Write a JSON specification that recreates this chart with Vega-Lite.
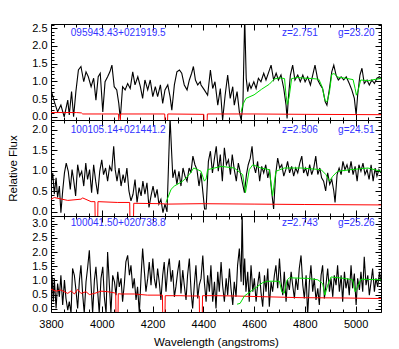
{
"$schema":"https://vega.github.io/schema/vega-lite/v6.json",
"background":"white",
"padding":{"left":6,"top":18,"right":5,"bottom":5},
"bounds":"flush",
"spacing":0,
"datasets":{
"b1":[{"x":3800,"y":0.76},{"x":3813,"y":0.43},{"x":3826,"y":0.14},{"x":3839,"y":0.33},{"x":3852,"y":0.0},{"x":3866,"y":0.47},{"x":3872,"y":0.05},{"x":3881,"y":0.71},{"x":3889,"y":0.0},{"x":3898,"y":0.71},{"x":3908,"y":1.32},{"x":3918,"y":1.42},{"x":3929,"y":0.99},{"x":3938,"y":1.27},{"x":3947,"y":1.13},{"x":3958,"y":0.85},{"x":3968,"y":1.09},{"x":3977,"y":0.47},{"x":3986,"y":1.13},{"x":3994,"y":1.23},{"x":4004,"y":0.14},{"x":4013,"y":0.99},{"x":4023,"y":1.13},{"x":4032,"y":1.27},{"x":4040,"y":1.46},{"x":4049,"y":0.85},{"x":4059,"y":0.76},{"x":4067,"y":0.38},{"x":4073,"y":-0.05},{"x":4082,"y":0.85},{"x":4092,"y":0.76},{"x":4102,"y":0.94},{"x":4112,"y":0.8},{"x":4122,"y":1.27},{"x":4131,"y":0.9},{"x":4142,"y":1.13},{"x":4152,"y":0.85},{"x":4161,"y":0.52},{"x":4170,"y":1.04},{"x":4181,"y":0.76},{"x":4191,"y":1.04},{"x":4201,"y":0.57},{"x":4211,"y":0.85},{"x":4220,"y":0.57},{"x":4231,"y":0.9},{"x":4240,"y":0.38},{"x":4249,"y":0.76},{"x":4260,"y":0.9},{"x":4269,"y":0.57},{"x":4276,"y":0.19},{"x":4286,"y":0.9},{"x":4296,"y":1.27},{"x":4306,"y":1.32},{"x":4315,"y":1.23},{"x":4325,"y":0.9},{"x":4336,"y":0.76},{"x":4345,"y":1.04},{"x":4354,"y":1.23},{"x":4361,"y":1.42},{"x":4369,"y":1.04},{"x":4378,"y":0.9},{"x":4388,"y":0.99},{"x":4391,"y":0.9},{"x":4404,"y":0.76},{"x":4417,"y":0.61},{"x":4428,"y":1.32},{"x":4437,"y":0.8},{"x":4446,"y":0.99},{"x":4457,"y":0.33},{"x":4467,"y":0.8},{"x":4476,"y":-0.09},{"x":4486,"y":0.61},{"x":4496,"y":1.18},{"x":4506,"y":0.52},{"x":4516,"y":0.85},{"x":4522,"y":0.33},{"x":4533,"y":0.71},{"x":4542,"y":0.14},{"x":4549,"y":-0.09},{"x":4556,"y":0.33},{"x":4563,"y":2.8},{"x":4569,"y":1.09},{"x":4575,"y":0.71},{"x":4581,"y":0.94},{"x":4588,"y":0.8},{"x":4599,"y":0.99},{"x":4608,"y":0.8},{"x":4617,"y":1.09},{"x":4627,"y":0.99},{"x":4638,"y":1.23},{"x":4647,"y":1.04},{"x":4658,"y":1.27},{"x":4667,"y":1.46},{"x":4677,"y":1.04},{"x":4687,"y":1.23},{"x":4696,"y":1.04},{"x":4706,"y":1.18},{"x":4717,"y":0.8},{"x":4726,"y":0.33},{"x":4730,"y":-0.05},{"x":4735,"y":0.52},{"x":4743,"y":1.18},{"x":4752,"y":1.46},{"x":4761,"y":1.04},{"x":4772,"y":1.18},{"x":4782,"y":0.99},{"x":4792,"y":1.18},{"x":4801,"y":0.99},{"x":4811,"y":1.13},{"x":4822,"y":0.9},{"x":4831,"y":1.18},{"x":4840,"y":1.46},{"x":4851,"y":1.04},{"x":4861,"y":0.9},{"x":4870,"y":0.8},{"x":4880,"y":0.43},{"x":4887,"y":0.33},{"x":4897,"y":0.8},{"x":4906,"y":1.27},{"x":4914,"y":1.46},{"x":4923,"y":1.18},{"x":4932,"y":1.04},{"x":4943,"y":1.13},{"x":4953,"y":1.04},{"x":4963,"y":1.13},{"x":4975,"y":0.94},{"x":4985,"y":0.76},{"x":4995,"y":0.52},{"x":5002,"y":0.05},{"x":5008,"y":0.61},{"x":5017,"y":1.18},{"x":5025,"y":1.37},{"x":5034,"y":0.94},{"x":5045,"y":1.04},{"x":5054,"y":0.9},{"x":5064,"y":1.04},{"x":5074,"y":0.94},{"x":5084,"y":1.09},{"x":5094,"y":1.13},{"x":5100,"y":1.09}],
"r1":[{"x":3800,"y":0.12},{"x":3850,"y":0.12},{"x":3900,"y":0.12},{"x":3920,"y":0.11},{"x":3925,"y":0.08},{"x":4000,"y":0.08},{"x":4066,"y":0.08},{"x":4067,"y":-0.15},{"x":4073,"y":-0.15},{"x":4074,"y":0.08},{"x":4248,"y":0.08},{"x":4249,"y":-0.15},{"x":4259,"y":-0.15},{"x":4260,"y":0.08},{"x":4402,"y":0.07},{"x":4403,"y":-0.15},{"x":4415,"y":-0.15},{"x":4416,"y":0.08},{"x":4600,"y":0.08},{"x":4800,"y":0.07},{"x":5100,"y":0.06}],
"g1":[{"x":4549,"y":0.14},{"x":4556,"y":0.35},{"x":4568,"y":0.52},{"x":4600,"y":0.62},{"x":4630,"y":0.78},{"x":4660,"y":0.92},{"x":4680,"y":1.07},{"x":4700,"y":1.1},{"x":4720,"y":1.08},{"x":4726,"y":0.6},{"x":4731,"y":0.35},{"x":4738,"y":0.55},{"x":4748,"y":1.08},{"x":4770,"y":1.11},{"x":4800,"y":1.09},{"x":4830,"y":1.08},{"x":4855,"y":1.06},{"x":4868,"y":0.85},{"x":4880,"y":0.45},{"x":4888,"y":0.43},{"x":4897,"y":0.7},{"x":4906,"y":1.2},{"x":4915,"y":1.22},{"x":4930,"y":1.12},{"x":4960,"y":1.09},{"x":4990,"y":1.05},{"x":4998,"y":0.8},{"x":5003,"y":0.61},{"x":5010,"y":0.75},{"x":5020,"y":1.04},{"x":5050,"y":1.02},{"x":5080,"y":1.06},{"x":5100,"y":1.08}],
"t1":[{"x":3878,"y":2.38,"t":"095943.43+021919.5"},{"x":4710,"y":2.38,"t":"z=2.751"},{"x":4931,"y":2.38,"t":"g=23.20"}],
"b2":[{"x":3800,"y":0.67},{"x":3807,"y":0.95},{"x":3813,"y":0.43},{"x":3820,"y":0.83},{"x":3826,"y":0.35},{"x":3833,"y":0.63},{"x":3839,"y":-0.02},{"x":3846,"y":0.51},{"x":3853,"y":0.95},{"x":3860,"y":1.19},{"x":3868,"y":0.99},{"x":3876,"y":0.55},{"x":3883,"y":1.03},{"x":3889,"y":0.79},{"x":3897,"y":0.39},{"x":3905,"y":1.15},{"x":3913,"y":0.87},{"x":3921,"y":0.99},{"x":3929,"y":0.63},{"x":3937,"y":1.19},{"x":3944,"y":0.79},{"x":3952,"y":1.03},{"x":3960,"y":0.47},{"x":3968,"y":1.15},{"x":3976,"y":0.75},{"x":3984,"y":0.43},{"x":3992,"y":0.99},{"x":4000,"y":1.27},{"x":4007,"y":0.91},{"x":4015,"y":1.07},{"x":4023,"y":0.75},{"x":4031,"y":1.11},{"x":4039,"y":0.99},{"x":4047,"y":1.6},{"x":4053,"y":1.03},{"x":4060,"y":0.75},{"x":4068,"y":1.07},{"x":4076,"y":0.63},{"x":4084,"y":0.91},{"x":4091,"y":0.71},{"x":4099,"y":1.07},{"x":4107,"y":0.51},{"x":4115,"y":0.27},{"x":4123,"y":0.43},{"x":4131,"y":0.79},{"x":4139,"y":0.23},{"x":4147,"y":0.59},{"x":4155,"y":0.39},{"x":4162,"y":0.75},{"x":4170,"y":0.43},{"x":4178,"y":0.71},{"x":4186,"y":0.11},{"x":4194,"y":0.39},{"x":4202,"y":0.63},{"x":4210,"y":0.35},{"x":4218,"y":0.55},{"x":4225,"y":0.19},{"x":4233,"y":0.31},{"x":4241,"y":-0.02},{"x":4249,"y":0.19},{"x":4257,"y":0.0},{"x":4263,"y":1.15},{"x":4269,"y":2.3},{"x":4275,"y":1.48},{"x":4280,"y":0.83},{"x":4288,"y":1.03},{"x":4296,"y":0.67},{"x":4304,"y":0.99},{"x":4312,"y":0.63},{"x":4320,"y":1.07},{"x":4328,"y":0.87},{"x":4336,"y":0.75},{"x":4344,"y":1.07},{"x":4351,"y":0.95},{"x":4359,"y":1.36},{"x":4367,"y":1.15},{"x":4375,"y":1.03},{"x":4383,"y":0.63},{"x":4391,"y":0.95},{"x":4398,"y":0.5},{"x":4405,"y":0.07},{"x":4411,"y":0.07},{"x":4420,"y":1.23},{"x":4428,"y":1.48},{"x":4436,"y":0.95},{"x":4444,"y":1.31},{"x":4451,"y":1.6},{"x":4459,"y":0.99},{"x":4467,"y":1.4},{"x":4475,"y":0.75},{"x":4483,"y":1.56},{"x":4491,"y":1.15},{"x":4499,"y":1.27},{"x":4507,"y":0.91},{"x":4514,"y":1.4},{"x":4522,"y":1.03},{"x":4530,"y":0.75},{"x":4538,"y":1.19},{"x":4546,"y":0.95},{"x":4554,"y":0.71},{"x":4562,"y":0.47},{"x":4570,"y":0.91},{"x":4577,"y":1.15},{"x":4585,"y":1.31},{"x":4592,"y":1.6},{"x":4598,"y":1.15},{"x":4606,"y":0.95},{"x":4614,"y":1.23},{"x":4622,"y":0.75},{"x":4630,"y":1.11},{"x":4638,"y":0.95},{"x":4646,"y":1.15},{"x":4654,"y":0.83},{"x":4661,"y":1.03},{"x":4669,"y":0.51},{"x":4677,"y":0.07},{"x":4685,"y":0.91},{"x":4693,"y":1.31},{"x":4701,"y":1.07},{"x":4709,"y":1.15},{"x":4717,"y":0.87},{"x":4725,"y":1.03},{"x":4732,"y":1.23},{"x":4740,"y":0.95},{"x":4748,"y":1.11},{"x":4756,"y":0.87},{"x":4764,"y":1.07},{"x":4772,"y":0.95},{"x":4780,"y":1.19},{"x":4788,"y":1.36},{"x":4795,"y":0.95},{"x":4803,"y":1.07},{"x":4811,"y":0.87},{"x":4819,"y":1.15},{"x":4827,"y":0.91},{"x":4835,"y":1.07},{"x":4843,"y":1.36},{"x":4851,"y":0.91},{"x":4859,"y":1.07},{"x":4866,"y":0.83},{"x":4874,"y":0.75},{"x":4882,"y":0.51},{"x":4890,"y":0.95},{"x":4898,"y":0.67},{"x":4906,"y":0.79},{"x":4914,"y":0.51},{"x":4919,"y":0.23},{"x":4927,"y":0.91},{"x":4935,"y":1.07},{"x":4943,"y":0.91},{"x":4950,"y":1.23},{"x":4958,"y":1.03},{"x":4966,"y":1.15},{"x":4974,"y":0.95},{"x":4982,"y":1.23},{"x":4990,"y":0.91},{"x":4998,"y":1.11},{"x":5006,"y":0.75},{"x":5013,"y":1.15},{"x":5021,"y":0.99},{"x":5029,"y":1.19},{"x":5037,"y":0.91},{"x":5045,"y":1.03},{"x":5053,"y":0.79},{"x":5061,"y":1.15},{"x":5069,"y":0.75},{"x":5077,"y":1.07},{"x":5084,"y":0.87},{"x":5092,"y":1.03},{"x":5100,"y":0.95}],
"r2":[{"x":3800,"y":0.31},{"x":3813,"y":0.35},{"x":3866,"y":0.28},{"x":3918,"y":0.31},{"x":3925,"y":0.34},{"x":3958,"y":0.25},{"x":3973,"y":0.25},{"x":3974,"y":-0.15},{"x":3984,"y":-0.15},{"x":3985,"y":0.25},{"x":4063,"y":0.23},{"x":4110,"y":0.23},{"x":4111,"y":-0.15},{"x":4125,"y":-0.15},{"x":4126,"y":0.21},{"x":4233,"y":0.2},{"x":4260,"y":0.19},{"x":4391,"y":0.2},{"x":4600,"y":0.19},{"x":4800,"y":0.18},{"x":5100,"y":0.17}],
"g2":[{"x":4253,"y":0.23},{"x":4273,"y":0.55},{"x":4286,"y":0.63},{"x":4319,"y":0.75},{"x":4345,"y":0.91},{"x":4362,"y":1.07},{"x":4378,"y":1.03},{"x":4391,"y":0.99},{"x":4404,"y":0.75},{"x":4411,"y":0.8},{"x":4417,"y":1.03},{"x":4444,"y":1.07},{"x":4470,"y":1.11},{"x":4522,"y":1.07},{"x":4555,"y":0.91},{"x":4566,"y":0.47},{"x":4581,"y":1.03},{"x":4595,"y":1.15},{"x":4627,"y":1.07},{"x":4660,"y":1.03},{"x":4673,"y":0.39},{"x":4686,"y":0.99},{"x":4719,"y":1.07},{"x":4785,"y":1.07},{"x":4864,"y":1.03},{"x":4883,"y":0.91},{"x":4897,"y":0.75},{"x":4910,"y":0.87},{"x":4929,"y":0.99},{"x":4982,"y":1.03},{"x":5048,"y":1.07},{"x":5100,"y":0.99}],
"t2":[{"x":3878,"y":2.0,"t":"100105.14+021441.2"},{"x":4710,"y":2.0,"t":"z=2.506"},{"x":4931,"y":2.0,"t":"g=24.51"}],
"b3":[{"x":3800,"y":0.6},{"x":3804,"y":1.18},{"x":3809,"y":0.25},{"x":3813,"y":1.07},{"x":3820,"y":0.01},{"x":3826,"y":0.89},{"x":3833,"y":0.42},{"x":3839,"y":1.18},{"x":3846,"y":0.13},{"x":3853,"y":1.01},{"x":3859,"y":0.36},{"x":3866,"y":-0.05},{"x":3872,"y":0.25},{"x":3879,"y":-0.16},{"x":3885,"y":1.42},{"x":3892,"y":1.18},{"x":3899,"y":0.6},{"x":3905,"y":0.01},{"x":3912,"y":1.01},{"x":3918,"y":1.53},{"x":3925,"y":0.48},{"x":3931,"y":-0.16},{"x":3938,"y":0.95},{"x":3944,"y":1.42},{"x":3951,"y":2.06},{"x":3958,"y":0.83},{"x":3964,"y":-0.16},{"x":3971,"y":1.01},{"x":3977,"y":1.48},{"x":3984,"y":0.6},{"x":3990,"y":-0.16},{"x":3997,"y":1.07},{"x":4004,"y":1.48},{"x":4010,"y":0.42},{"x":4017,"y":-0.16},{"x":4023,"y":2.0},{"x":4030,"y":0.83},{"x":4036,"y":-0.16},{"x":4043,"y":1.18},{"x":4050,"y":0.95},{"x":4056,"y":0.48},{"x":4063,"y":1.3},{"x":4069,"y":0.77},{"x":4076,"y":1.07},{"x":4082,"y":0.25},{"x":4089,"y":0.89},{"x":4095,"y":1.65},{"x":4102,"y":1.88},{"x":4109,"y":1.18},{"x":4115,"y":1.53},{"x":4122,"y":0.72},{"x":4128,"y":1.07},{"x":4135,"y":0.31},{"x":4141,"y":0.77},{"x":4148,"y":-0.16},{"x":4155,"y":1.18},{"x":4161,"y":2.12},{"x":4168,"y":1.3},{"x":4174,"y":0.6},{"x":4181,"y":1.07},{"x":4187,"y":1.65},{"x":4194,"y":0.83},{"x":4201,"y":1.77},{"x":4207,"y":1.07},{"x":4214,"y":0.72},{"x":4220,"y":1.42},{"x":4227,"y":0.89},{"x":4233,"y":0.31},{"x":4240,"y":1.18},{"x":4246,"y":1.65},{"x":4253,"y":0.6},{"x":4260,"y":1.42},{"x":4266,"y":1.77},{"x":4273,"y":0.95},{"x":4279,"y":1.36},{"x":4286,"y":0.42},{"x":4292,"y":0.77},{"x":4299,"y":1.3},{"x":4306,"y":1.71},{"x":4312,"y":0.54},{"x":4319,"y":1.36},{"x":4325,"y":0.83},{"x":4332,"y":0.31},{"x":4338,"y":1.18},{"x":4345,"y":1.77},{"x":4352,"y":0.6},{"x":4358,"y":0.01},{"x":4365,"y":0.89},{"x":4371,"y":1.53},{"x":4378,"y":0.36},{"x":4384,"y":0.83},{"x":4391,"y":1.07},{"x":4398,"y":1.88},{"x":4404,"y":0.95},{"x":4411,"y":0.25},{"x":4417,"y":1.18},{"x":4424,"y":0.6},{"x":4430,"y":1.53},{"x":4437,"y":0.25},{"x":4444,"y":0.95},{"x":4450,"y":0.01},{"x":4457,"y":1.3},{"x":4463,"y":0.6},{"x":4470,"y":1.65},{"x":4476,"y":0.83},{"x":4483,"y":0.25},{"x":4490,"y":1.07},{"x":4496,"y":0.48},{"x":4503,"y":1.42},{"x":4509,"y":0.72},{"x":4516,"y":0.13},{"x":4522,"y":0.95},{"x":4529,"y":0.42},{"x":4535,"y":1.53},{"x":4542,"y":2.12},{"x":4549,"y":0.95},{"x":4553,"y":3.4},{"x":4558,"y":0.83},{"x":4563,"y":1.77},{"x":4568,"y":0.6},{"x":4575,"y":1.3},{"x":4581,"y":0.25},{"x":4588,"y":1.53},{"x":4595,"y":0.6},{"x":4601,"y":1.07},{"x":4608,"y":0.25},{"x":4614,"y":0.83},{"x":4621,"y":1.3},{"x":4627,"y":0.6},{"x":4634,"y":0.07},{"x":4641,"y":1.18},{"x":4647,"y":0.6},{"x":4654,"y":1.42},{"x":4660,"y":0.07},{"x":4667,"y":0.95},{"x":4673,"y":0.6},{"x":4680,"y":1.18},{"x":4686,"y":1.53},{"x":4693,"y":0.72},{"x":4700,"y":1.77},{"x":4706,"y":0.95},{"x":4713,"y":0.48},{"x":4719,"y":1.3},{"x":4726,"y":0.25},{"x":4732,"y":1.01},{"x":4739,"y":0.66},{"x":4746,"y":1.3},{"x":4752,"y":0.83},{"x":4759,"y":0.36},{"x":4765,"y":1.07},{"x":4772,"y":0.66},{"x":4778,"y":1.42},{"x":4785,"y":1.88},{"x":4792,"y":0.83},{"x":4798,"y":0.36},{"x":4805,"y":1.18},{"x":4811,"y":-0.22},{"x":4818,"y":0.95},{"x":4824,"y":1.53},{"x":4831,"y":0.6},{"x":4837,"y":1.07},{"x":4844,"y":0.31},{"x":4851,"y":0.72},{"x":4857,"y":0.13},{"x":4864,"y":1.18},{"x":4870,"y":1.53},{"x":4877,"y":0.36},{"x":4883,"y":0.83},{"x":4890,"y":1.42},{"x":4897,"y":0.6},{"x":4903,"y":1.07},{"x":4910,"y":0.42},{"x":4916,"y":1.18},{"x":4923,"y":0.83},{"x":4929,"y":1.53},{"x":4936,"y":0.6},{"x":4943,"y":1.18},{"x":4949,"y":0.25},{"x":4956,"y":1.3},{"x":4962,"y":0.72},{"x":4969,"y":1.07},{"x":4975,"y":0.48},{"x":4982,"y":1.53},{"x":4988,"y":0.72},{"x":4995,"y":1.24},{"x":5002,"y":0.13},{"x":5008,"y":1.07},{"x":5015,"y":0.66},{"x":5021,"y":1.3},{"x":5028,"y":0.6},{"x":5034,"y":1.83},{"x":5041,"y":0.83},{"x":5048,"y":1.18},{"x":5054,"y":0.48},{"x":5061,"y":0.95},{"x":5067,"y":1.42},{"x":5074,"y":0.6},{"x":5080,"y":1.07},{"x":5087,"y":0.77},{"x":5094,"y":1.3},{"x":5100,"y":0.95}],
"r3":[{"x":3800,"y":0.69},{"x":3820,"y":0.62},{"x":3839,"y":0.66},{"x":3866,"y":0.54},{"x":3879,"y":0.63},{"x":3892,"y":0.52},{"x":3905,"y":0.68},{"x":3918,"y":0.54},{"x":3938,"y":0.6},{"x":3951,"y":0.5},{"x":3971,"y":0.54},{"x":3997,"y":0.62},{"x":4023,"y":0.6},{"x":4049,"y":0.56},{"x":4055,"y":0.55},{"x":4056,"y":-0.2},{"x":4064,"y":-0.2},{"x":4065,"y":0.53},{"x":4076,"y":0.52},{"x":4128,"y":0.52},{"x":4180,"y":0.48},{"x":4239,"y":0.48},{"x":4240,"y":-0.2},{"x":4249,"y":-0.2},{"x":4250,"y":0.46},{"x":4312,"y":0.46},{"x":4338,"y":0.45},{"x":4384,"y":0.45},{"x":4385,"y":-0.2},{"x":4396,"y":-0.2},{"x":4397,"y":0.46},{"x":4440,"y":0.46},{"x":4522,"y":0.45},{"x":4654,"y":0.42},{"x":4785,"y":0.39},{"x":4950,"y":0.38},{"x":5100,"y":0.36}],
"g3":[{"x":4533,"y":0.16},{"x":4545,"y":0.19},{"x":4562,"y":0.45},{"x":4588,"y":0.62},{"x":4608,"y":0.75},{"x":4634,"y":0.92},{"x":4654,"y":0.97},{"x":4700,"y":0.97},{"x":4709,"y":0.6},{"x":4719,"y":0.55},{"x":4730,"y":1.01},{"x":4739,"y":1.09},{"x":4811,"y":1.07},{"x":4851,"y":1.02},{"x":4870,"y":0.89},{"x":4879,"y":0.48},{"x":4890,"y":0.83},{"x":4903,"y":1.12},{"x":4956,"y":1.07},{"x":4988,"y":1.02},{"x":4998,"y":0.6},{"x":5005,"y":0.72},{"x":5021,"y":1.04},{"x":5100,"y":1.02}],
"t3":[{"x":3878,"y":3.02,"t":"100041.50+020738.8"},{"x":4710,"y":3.02,"t":"z=2.743"},{"x":4931,"y":3.02,"t":"g=25.26"}]
},
"vconcat":[
{"width":330,"height":96,
 "layer":[
  {"data":{"name":"b1"},"mark":{"type":"line","color":"#000000","strokeWidth":1.1,"clip":true},
   "encoding":{"x":{"field":"x","type":"quantitative","scale":{"domain":[3800,5100],"nice":false,"zero":false},
     "axis":{"orient":"bottom","values":[3800,3850,3900,3950,4000,4050,4100,4150,4200,4250,4300,4350,4400,4450,4500,4550,4600,4650,4700,4750,4800,4850,4900,4950,5000,5050,5100],"labels":false,"title":null,"tickSize":{"condition":{"test":"datum.value%200==0","value":-6},"value":-3}}},
    "y":{"field":"y","type":"quantitative","scale":{"domain":[-0.09,2.62],"nice":false,"zero":false},
     "axis":{"orient":"left","values":[0,0.1,0.2,0.3,0.4,0.5,0.6,0.7,0.8,0.9,1,1.1,1.2,1.3,1.4,1.5,1.6,1.7,1.8,1.9,2,2.1,2.2,2.3,2.4,2.5,2.6],"labelExpr":"round(datum.value*10)%5==0 ? format(datum.value,'.1f') : ''","labelOverlap":false,"labelFlush":false,"labelPadding":10,"title":null,"tickSize":{"condition":{"test":"round(datum.value*10)%5==0","value":-6},"value":-3}}}}},
  {"data":{"name":"r1"},"mark":{"type":"line","color":"#ff0000","strokeWidth":1,"clip":true},
   "encoding":{"x":{"field":"x","type":"quantitative",
     "axis":{"orient":"top","values":[3800,3850,3900,3950,4000,4050,4100,4150,4200,4250,4300,4350,4400,4450,4500,4550,4600,4650,4700,4750,4800,4850,4900,4950,5000,5050,5100],"labels":false,"title":null,"tickSize":{"condition":{"test":"datum.value%200==0","value":-6},"value":-3}}},
    "y":{"field":"y","type":"quantitative",
     "axis":{"orient":"right","values":[0,0.1,0.2,0.3,0.4,0.5,0.6,0.7,0.8,0.9,1,1.1,1.2,1.3,1.4,1.5,1.6,1.7,1.8,1.9,2,2.1,2.2,2.3,2.4,2.5,2.6],"labels":false,"title":null,"tickSize":{"condition":{"test":"round(datum.value*10)%5==0","value":-6},"value":-3}}}}},
  {"data":{"name":"g1"},"mark":{"type":"line","color":"#00dd00","strokeWidth":1,"clip":true},
   "encoding":{"x":{"field":"x","type":"quantitative","axis":null},"y":{"field":"y","type":"quantitative","axis":null}}},
  {"data":{"name":"t1"},"mark":{"type":"text","align":"left","baseline":"middle","color":"#3333ff","fontSize":10,"font":"Liberation Sans"},
   "encoding":{"x":{"field":"x","type":"quantitative","axis":null},"y":{"field":"y","type":"quantitative","axis":null},"text":{"field":"t"}}}
 ],
 "resolve":{"axis":{"x":"independent","y":"independent"}}},
{"width":330,"height":96,
 "layer":[
  {"data":{"name":"b2"},"mark":{"type":"line","color":"#000000","strokeWidth":1.1,"clip":true},
   "encoding":{"x":{"field":"x","type":"quantitative","scale":{"domain":[3800,5100],"nice":false,"zero":false},
     "axis":{"orient":"bottom","values":[3800,3850,3900,3950,4000,4050,4100,4150,4200,4250,4300,4350,4400,4450,4500,4550,4600,4650,4700,4750,4800,4850,4900,4950,5000,5050,5100],"labels":false,"title":null,"tickSize":{"condition":{"test":"datum.value%200==0","value":-6},"value":-3}}},
    "y":{"field":"y","type":"quantitative","scale":{"domain":[-0.1,2.24],"nice":false,"zero":false},
     "axis":{"orient":"left","values":[0,0.1,0.2,0.3,0.4,0.5,0.6,0.7,0.8,0.9,1,1.1,1.2,1.3,1.4,1.5,1.6,1.7,1.8,1.9,2,2.1,2.2],"labelExpr":"round(datum.value*10)%5==0 ? format(datum.value,'.1f') : ''","labelOverlap":false,"labelFlush":false,"labelPadding":10,"title":"Relative Flux","titleX":-38,"titleY":48,"titleAngle":-90,"titleAlign":"center","titleBaseline":"middle","tickSize":{"condition":{"test":"round(datum.value*10)%5==0","value":-6},"value":-3}}}}},
  {"data":{"name":"r2"},"mark":{"type":"line","color":"#ff0000","strokeWidth":1,"clip":true},
   "encoding":{"x":{"field":"x","type":"quantitative",
     "axis":{"orient":"top","values":[3800,3850,3900,3950,4000,4050,4100,4150,4200,4250,4300,4350,4400,4450,4500,4550,4600,4650,4700,4750,4800,4850,4900,4950,5000,5050,5100],"labels":false,"title":null,"tickSize":{"condition":{"test":"datum.value%200==0","value":-6},"value":-3}}},
    "y":{"field":"y","type":"quantitative",
     "axis":{"orient":"right","values":[0,0.1,0.2,0.3,0.4,0.5,0.6,0.7,0.8,0.9,1,1.1,1.2,1.3,1.4,1.5,1.6,1.7,1.8,1.9,2,2.1,2.2],"labels":false,"title":null,"tickSize":{"condition":{"test":"round(datum.value*10)%5==0","value":-6},"value":-3}}}}},
  {"data":{"name":"g2"},"mark":{"type":"line","color":"#00dd00","strokeWidth":1,"clip":true},
   "encoding":{"x":{"field":"x","type":"quantitative","axis":null},"y":{"field":"y","type":"quantitative","axis":null}}},
  {"data":{"name":"t2"},"mark":{"type":"text","align":"left","baseline":"middle","color":"#3333ff","fontSize":10,"font":"Liberation Sans"},
   "encoding":{"x":{"field":"x","type":"quantitative","axis":null},"y":{"field":"y","type":"quantitative","axis":null},"text":{"field":"t"}}}
 ],
 "resolve":{"axis":{"x":"independent","y":"independent"}}},
{"width":330,"height":96,
 "layer":[
  {"data":{"name":"b3"},"mark":{"type":"line","color":"#000000","strokeWidth":1.1,"clip":true},
   "encoding":{"x":{"field":"x","type":"quantitative","scale":{"domain":[3800,5100],"nice":false,"zero":false},
     "axis":{"orient":"bottom","values":[3800,3850,3900,3950,4000,4050,4100,4150,4200,4250,4300,4350,4400,4450,4500,4550,4600,4650,4700,4750,4800,4850,4900,4950,5000,5050,5100],"labelExpr":"datum.value%200==0 ? format(datum.value,'d') : ''","labelOverlap":false,"labelFlush":false,"labelPadding":12,"title":"Wavelength (angstroms)","titleY":30,"titleBaseline":"middle","tickSize":{"condition":{"test":"datum.value%200==0","value":-6},"value":-3}}},
    "y":{"field":"y","type":"quantitative","scale":{"domain":[-0.115,3.27],"nice":false,"zero":false},
     "axis":{"orient":"left","values":[0,0.1,0.2,0.3,0.4,0.5,0.6,0.7,0.8,0.9,1,1.1,1.2,1.3,1.4,1.5,1.6,1.7,1.8,1.9,2,2.1,2.2,2.3,2.4,2.5,2.6,2.7,2.8,2.9,3,3.1,3.2],"labelExpr":"round(datum.value*10)%5==0 ? format(datum.value,'.1f') : ''","labelOverlap":false,"labelFlush":false,"labelPadding":10,"title":null,"tickSize":{"condition":{"test":"round(datum.value*10)%5==0","value":-6},"value":-3}}}}},
  {"data":{"name":"r3"},"mark":{"type":"line","color":"#ff0000","strokeWidth":1,"clip":true},
   "encoding":{"x":{"field":"x","type":"quantitative",
     "axis":{"orient":"top","values":[3800,3850,3900,3950,4000,4050,4100,4150,4200,4250,4300,4350,4400,4450,4500,4550,4600,4650,4700,4750,4800,4850,4900,4950,5000,5050,5100],"labels":false,"title":null,"tickSize":{"condition":{"test":"datum.value%200==0","value":-6},"value":-3}}},
    "y":{"field":"y","type":"quantitative",
     "axis":{"orient":"right","values":[0,0.1,0.2,0.3,0.4,0.5,0.6,0.7,0.8,0.9,1,1.1,1.2,1.3,1.4,1.5,1.6,1.7,1.8,1.9,2,2.1,2.2,2.3,2.4,2.5,2.6,2.7,2.8,2.9,3,3.1,3.2],"labels":false,"title":null,"tickSize":{"condition":{"test":"round(datum.value*10)%5==0","value":-6},"value":-3}}}}},
  {"data":{"name":"g3"},"mark":{"type":"line","color":"#00dd00","strokeWidth":1,"clip":true},
   "encoding":{"x":{"field":"x","type":"quantitative","axis":null},"y":{"field":"y","type":"quantitative","axis":null}}},
  {"data":{"name":"t3"},"mark":{"type":"text","align":"left","baseline":"middle","color":"#3333ff","fontSize":10,"font":"Liberation Sans"},
   "encoding":{"x":{"field":"x","type":"quantitative","axis":null},"y":{"field":"y","type":"quantitative","axis":null},"text":{"field":"t"}}}
 ],
 "resolve":{"axis":{"x":"independent","y":"independent"}}}
],
"config":{
 "view":{"stroke":"#000000","strokeWidth":1},
 "axis":{"domain":false,"grid":false,"tickColor":"#000000","tickWidth":1,"labelColor":"#000000","titleColor":"#000000","labelFont":"Liberation Sans","titleFont":"Liberation Sans","labelFontSize":11,"titleFontSize":11.5,"titleFontWeight":"normal"}
}
}
